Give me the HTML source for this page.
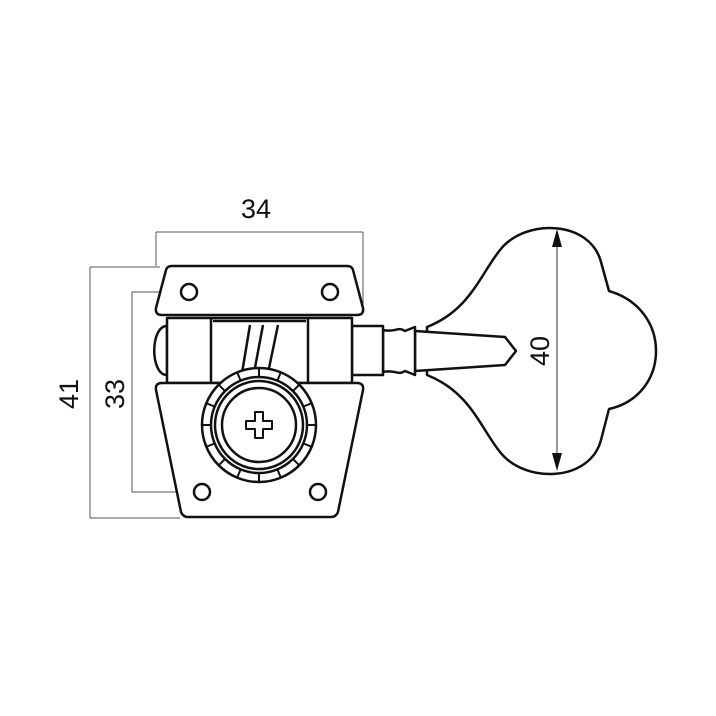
<!DOCTYPE html>
<html><head><style>body{margin:0;background:#fff}svg{display:block}</style></head><body>
<svg width="716" height="716" viewBox="0 0 716 716" xmlns="http://www.w3.org/2000/svg">
<rect width="716" height="716" fill="#fff"/>
<g stroke="#555" stroke-width="1" fill="none">
<path d="M156 232H363M156 232V266M363 232V305"/>
<path d="M90 267V518M90 267H160M90 518H180"/>
<path d="M132 292V492M132 292H178M132 492H178"/>
</g>
<g stroke="#111" stroke-width="2.5" fill="#fff" stroke-linejoin="round">
<path d="M427 327C470 310 480 275 500 250C525 218 590 220 601 262L609 291C640 300 656 325 656 351C656 377 640 402 609 409L601 440C590 482 525 484 500 452C480 427 470 392 427 375Z"/>
<path d="M415 331L505 337L516 351L505 365L415 371Z"/>
<path d="M383 330C395 333 398 326 405 331L415 327V375L405 371C398 376 395 369 383 372Z"/>
<path d="M352 326H383V375H352Z"/>
<path d="M167 326C150 326 150 375 167 375Z"/>
<path d="M167 318H352V383H167Z"/>
<path d="M211 318V383M308 318V383M213 321H306" fill="none"/>
<path d="M250 325L242 373M263 325L254 373M278 325L268 373" fill="none"/>
<path d="M172 266H347Q352 266 353 270L363 308Q364 315 357 315H162Q155 315 156 308L166 270Q167 266 172 266Z"/>
<path d="M162 383H357Q364 383 363 390L338 512Q336 517 331 517H188Q183 517 181 512L156 390Q155 383 162 383Z"/>
<circle cx="189" cy="292" r="8"/><circle cx="330" cy="292" r="8"/>
<circle cx="202" cy="492" r="8"/><circle cx="318" cy="492" r="8"/>
<circle cx="259" cy="425" r="57"/>
<circle cx="259" cy="425" r="48"/>
<circle cx="259" cy="425" r="44"/>
<circle cx="259" cy="425" r="37"/>
<path d="M255 412h8v9h9v8h-9v9h-8v-9h-9v-8h9z" stroke-width="2"/>
</g>
<g stroke="#111" stroke-width="2">
<path id="t" d="M259 368V377"/>
<use href="#t" transform="rotate(22.5 259 425)"/><use href="#t" transform="rotate(45 259 425)"/><use href="#t" transform="rotate(67.5 259 425)"/><use href="#t" transform="rotate(90 259 425)"/><use href="#t" transform="rotate(112.5 259 425)"/><use href="#t" transform="rotate(135 259 425)"/><use href="#t" transform="rotate(157.5 259 425)"/><use href="#t" transform="rotate(180 259 425)"/><use href="#t" transform="rotate(202.5 259 425)"/><use href="#t" transform="rotate(225 259 425)"/><use href="#t" transform="rotate(247.5 259 425)"/><use href="#t" transform="rotate(270 259 425)"/><use href="#t" transform="rotate(292.5 259 425)"/><use href="#t" transform="rotate(315 259 425)"/><use href="#t" transform="rotate(337.5 259 425)"/>
</g>
<path d="M557 232V468" stroke="#333" stroke-width="1"/>
<g fill="#111"><path d="M557 229l-5 18h10z"/><path d="M557 471l-5-18h10z"/></g>
<g font-family="Liberation Sans, sans-serif" font-size="27" fill="#111" text-anchor="middle">
<text x="256" y="218">34</text>
<text transform="translate(78,394) rotate(-90)">41</text>
<text transform="translate(124,394) rotate(-90)">33</text>
<text transform="translate(549,351) rotate(-90)">40</text>
</g>
</svg>
</body></html>
